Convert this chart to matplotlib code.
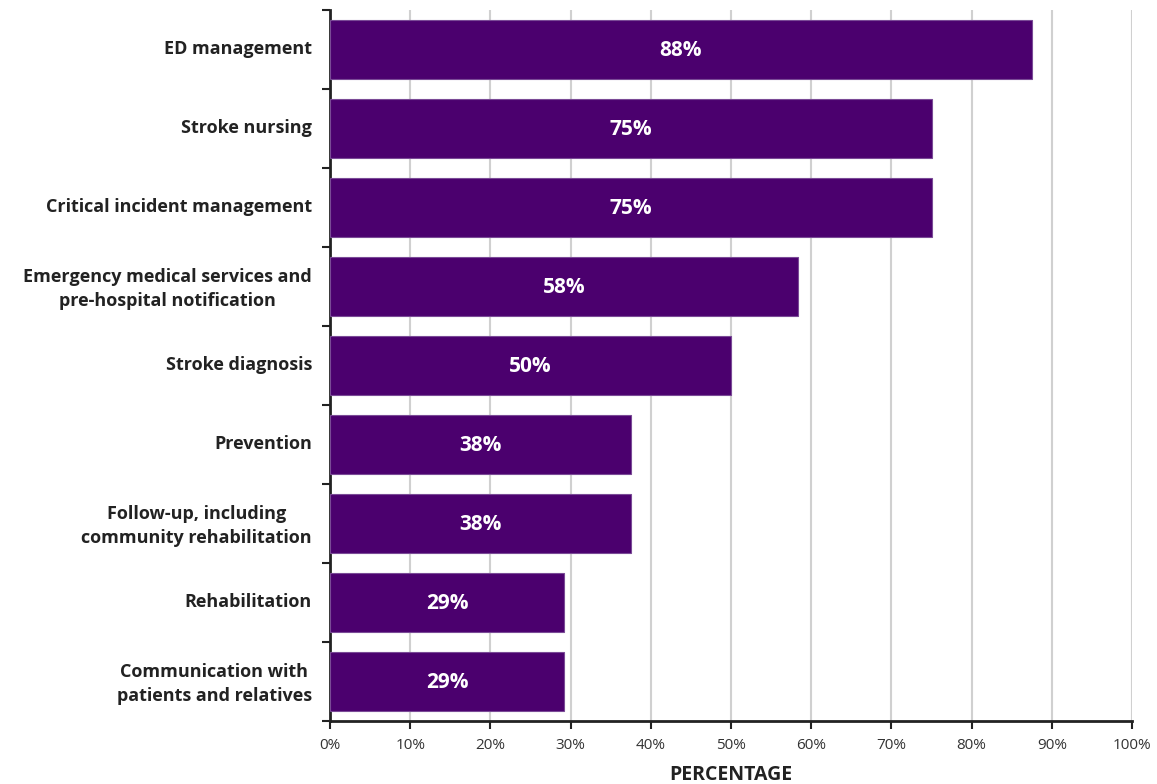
import matplotlib
matplotlib.use("Agg")
import matplotlib.pyplot as plt
import numpy as np

categories = ["ED management", "Stroke nursing", "Critical incident management",
              "Emergency medical services and\npre-hospital notification", "Stroke diagnosis",
              "Prevention", "Follow-up, including\ncommunity rehabilitation", "Rehabilitation",
              "Communication with\npatients and relatives"]
values = [87.5, 75, 75, 58.3, 50, 37.5, 37.5, 29.2, 29.2]
value_labels = ["88%", "75%", "75%", "58%", "50%", "38%", "38%", "29%", "29%"]
xticks = list(range(0, 101, 10))
xtick_labels = [f"{t}%" for t in xticks]

plt.rcParams['font.family'] = ['Open Sans', 'DejaVu Sans']

fig = plt.figure(figsize=(11.57, 7.84), dpi=100)
ax = fig.add_axes([330/1157, 63/784, 802/1157, 711/784])

n = len(categories)
y = np.arange(n)
ax.barh(y, values, height=0.75, color="#4b006e", edgecolor="#7a4a96", linewidth=0.8, zorder=3)
for yi, v, lab in zip(y, values, value_labels):
    ax.text(v / 2, yi - 0.02, lab, ha="center", va="center_baseline", color="white",
            fontsize=15, fontweight="bold", zorder=4)

ax.set_ylim(n - 0.5, -0.5)
ax.set_xlim(0, 100)
ax.set_xticks(xticks)
ax.set_xticklabels(xtick_labels, fontsize=11, color="#333333")
ax.xaxis.grid(True, color="#d0d0d0", linewidth=1.5, zorder=0)
ax.set_axisbelow(True)

ax.set_yticks(y - 0.03)
ax.set_yticklabels(categories, fontsize=13, fontweight="bold", color="#222222",
                   ha="right", multialignment="center", linespacing=1.4)
ax.tick_params(axis="y", length=0, pad=13)
ax.set_yticks(np.arange(-0.5, n, 1.0), minor=True)
ax.tick_params(axis="y", which="minor", length=6, width=1.5, color="#222222")
ax.tick_params(axis="x", length=6, width=1.5, color="#222222", pad=6)

for s in ["top", "right"]:
    ax.spines[s].set_visible(False)
for s in ["left", "bottom"]:
    ax.spines[s].set_linewidth(2)
    ax.spines[s].set_color("#222222")

ax.set_xlabel("PERCENTAGE", fontsize=14, fontweight="bold", color="#222222", labelpad=9)

fig.savefig("out.png", dpi=100)
